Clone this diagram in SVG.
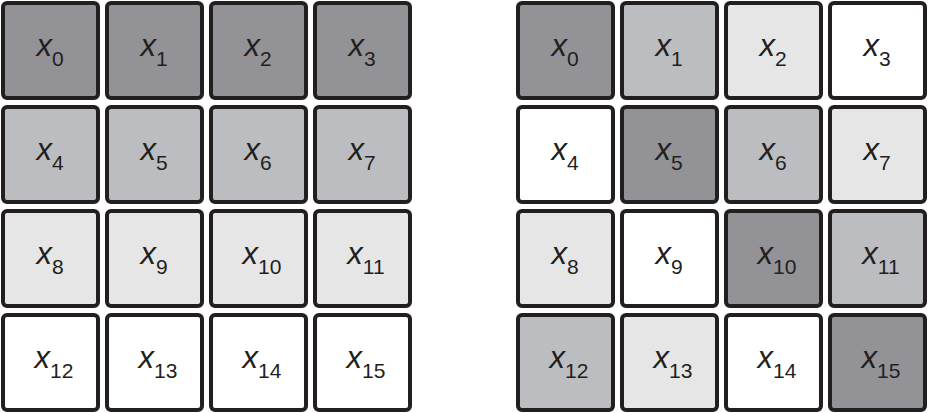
<svg xmlns="http://www.w3.org/2000/svg" width="930" height="413" viewBox="0 0 930 413">
<style>
rect{stroke:#231f20;stroke-width:4;}
.d{fill:#939296}.m{fill:#bcbdc0}.l{fill:#e6e6e7}.w{fill:#ffffff}
text{font-family:"Liberation Sans",Arial,sans-serif;font-size:31px;fill:#231f20;text-anchor:middle}
.s{font-size:21px;font-style:normal}
.x{font-style:italic}
</style>
<rect width="930" height="413" fill="#ffffff" style="stroke:none"/>
<g id="left">
<g id="L0"><rect class="d" x="3" y="3" width="95" height="95" rx="4"/><text x="50" y="56"><tspan class="x">x</tspan><tspan class="s" dy="10">0</tspan></text></g>
<g id="L1"><rect class="d" x="107" y="3" width="95" height="95" rx="4"/><text x="154" y="56"><tspan class="x">x</tspan><tspan class="s" dy="10">1</tspan></text></g>
<g id="L2"><rect class="d" x="211" y="3" width="95" height="95" rx="4"/><text x="258" y="56"><tspan class="x">x</tspan><tspan class="s" dy="10">2</tspan></text></g>
<g id="L3"><rect class="d" x="315" y="3" width="95" height="95" rx="4"/><text x="362" y="56"><tspan class="x">x</tspan><tspan class="s" dy="10">3</tspan></text></g>
<g id="L4"><rect class="m" x="3" y="107" width="95" height="95" rx="4"/><text x="50" y="160"><tspan class="x">x</tspan><tspan class="s" dy="10">4</tspan></text></g>
<g id="L5"><rect class="m" x="107" y="107" width="95" height="95" rx="4"/><text x="154" y="160"><tspan class="x">x</tspan><tspan class="s" dy="10">5</tspan></text></g>
<g id="L6"><rect class="m" x="211" y="107" width="95" height="95" rx="4"/><text x="258" y="160"><tspan class="x">x</tspan><tspan class="s" dy="10">6</tspan></text></g>
<g id="L7"><rect class="m" x="315" y="107" width="95" height="95" rx="4"/><text x="362" y="160"><tspan class="x">x</tspan><tspan class="s" dy="10">7</tspan></text></g>
<g id="L8"><rect class="l" x="3" y="211" width="95" height="95" rx="4"/><text x="50" y="264"><tspan class="x">x</tspan><tspan class="s" dy="10">8</tspan></text></g>
<g id="L9"><rect class="l" x="107" y="211" width="95" height="95" rx="4"/><text x="154" y="264"><tspan class="x">x</tspan><tspan class="s" dy="10">9</tspan></text></g>
<g id="L10"><rect class="l" x="211" y="211" width="95" height="95" rx="4"/><text x="262" y="264"><tspan class="x">x</tspan><tspan class="s" dy="10">10</tspan></text></g>
<g id="L11"><rect class="l" x="315" y="211" width="95" height="95" rx="4"/><text x="366" y="264"><tspan class="x">x</tspan><tspan class="s" dy="10">11</tspan></text></g>
<g id="L12"><rect class="w" x="3" y="315" width="95" height="95" rx="4"/><text x="54" y="368"><tspan class="x">x</tspan><tspan class="s" dy="10">12</tspan></text></g>
<g id="L13"><rect class="w" x="107" y="315" width="95" height="95" rx="4"/><text x="158" y="368"><tspan class="x">x</tspan><tspan class="s" dy="10">13</tspan></text></g>
<g id="L14"><rect class="w" x="211" y="315" width="95" height="95" rx="4"/><text x="262" y="368"><tspan class="x">x</tspan><tspan class="s" dy="10">14</tspan></text></g>
<g id="L15"><rect class="w" x="315" y="315" width="95" height="95" rx="4"/><text x="366" y="368"><tspan class="x">x</tspan><tspan class="s" dy="10">15</tspan></text></g>
</g>
<g id="right">
<g id="R0"><rect class="d" x="518" y="3" width="95" height="95" rx="4"/><text x="565" y="56"><tspan class="x">x</tspan><tspan class="s" dy="10">0</tspan></text></g>
<g id="R1"><rect class="m" x="622" y="3" width="95" height="95" rx="4"/><text x="669" y="56"><tspan class="x">x</tspan><tspan class="s" dy="10">1</tspan></text></g>
<g id="R2"><rect class="l" x="726" y="3" width="95" height="95" rx="4"/><text x="773" y="56"><tspan class="x">x</tspan><tspan class="s" dy="10">2</tspan></text></g>
<g id="R3"><rect class="w" x="830" y="3" width="95" height="95" rx="4"/><text x="877" y="56"><tspan class="x">x</tspan><tspan class="s" dy="10">3</tspan></text></g>
<g id="R4"><rect class="w" x="518" y="107" width="95" height="95" rx="4"/><text x="565" y="160"><tspan class="x">x</tspan><tspan class="s" dy="10">4</tspan></text></g>
<g id="R5"><rect class="d" x="622" y="107" width="95" height="95" rx="4"/><text x="669" y="160"><tspan class="x">x</tspan><tspan class="s" dy="10">5</tspan></text></g>
<g id="R6"><rect class="m" x="726" y="107" width="95" height="95" rx="4"/><text x="773" y="160"><tspan class="x">x</tspan><tspan class="s" dy="10">6</tspan></text></g>
<g id="R7"><rect class="l" x="830" y="107" width="95" height="95" rx="4"/><text x="877" y="160"><tspan class="x">x</tspan><tspan class="s" dy="10">7</tspan></text></g>
<g id="R8"><rect class="l" x="518" y="211" width="95" height="95" rx="4"/><text x="565" y="264"><tspan class="x">x</tspan><tspan class="s" dy="10">8</tspan></text></g>
<g id="R9"><rect class="w" x="622" y="211" width="95" height="95" rx="4"/><text x="669" y="264"><tspan class="x">x</tspan><tspan class="s" dy="10">9</tspan></text></g>
<g id="R10"><rect class="d" x="726" y="211" width="95" height="95" rx="4"/><text x="777" y="264"><tspan class="x">x</tspan><tspan class="s" dy="10">10</tspan></text></g>
<g id="R11"><rect class="m" x="830" y="211" width="95" height="95" rx="4"/><text x="881" y="264"><tspan class="x">x</tspan><tspan class="s" dy="10">11</tspan></text></g>
<g id="R12"><rect class="m" x="518" y="315" width="95" height="95" rx="4"/><text x="569" y="368"><tspan class="x">x</tspan><tspan class="s" dy="10">12</tspan></text></g>
<g id="R13"><rect class="l" x="622" y="315" width="95" height="95" rx="4"/><text x="673" y="368"><tspan class="x">x</tspan><tspan class="s" dy="10">13</tspan></text></g>
<g id="R14"><rect class="w" x="726" y="315" width="95" height="95" rx="4"/><text x="777" y="368"><tspan class="x">x</tspan><tspan class="s" dy="10">14</tspan></text></g>
<g id="R15"><rect class="d" x="830" y="315" width="95" height="95" rx="4"/><text x="881" y="368"><tspan class="x">x</tspan><tspan class="s" dy="10">15</tspan></text></g>
</g>
</svg>
